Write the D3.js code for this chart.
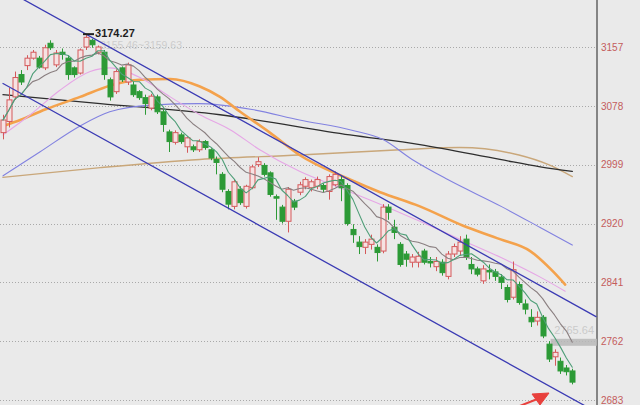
<!DOCTYPE html>
<html>
<head>
<meta charset="utf-8">
<script src="https://cdn.jsdelivr.net/npm/d3@7"></script>
<style>
  html, body { margin: 0; padding: 0; background: #eaeaea; }
  svg { display: block; }
</style>
</head>
<body>
<svg id="chart" width="640" height="405"></svg>
<script>
// Daily candles: open / high / low / close
const opens  = [3042,3057,3090,3120,3132,3142,3142,3129,3162,3133,3150,3142,3129,3122,3157,3166,3150,3150,3113,3097,
                3129,3110,3106,3097,3089,3075,3090,3070,3043,3029,3039,3023,3023,3019,3030,3019,3006,2986,2963,2943,
                2966,2943,2968,2999,2998,2988,2956,2942,2923,2950,2962,2970,2968,2970,2971,2963,2972,2979,2971,2912,
                2895,2888,2892,2888,2883,2942,2915,2892,2879,2868,2868,2883,2869,2862,2868,2849,2879,2883,2899,2865,
                2859,2843,2857,2855,2848,2834,2821,2838,2812,2794,2789,2794,2758,2741,2735,2726,2722];
const highs  = [3066,3102,3124,3126,3146,3153,3145,3160,3166,3153,3155,3146,3131,3155,3174.27,3168,3159,3153,3116,3127,
                3131,3136,3110,3099,3093,3094,3093,3073,3046,3045,3042,3037,3026,3033,3032,3021,3010,2989,2966,2979,
                2970,2972,2999,3009,3001,2990,2959,2945,2969,2953,2976,2982,2979,2983,2974,2986,2990,2984,2974,2919,
                2903,2899,2905,2892,2946,2946,2925,2895,2883,2879,2882,2886,2875,2875,2872,2883,2893,2903,2905,2875,
                2862,2864,2865,2859,2852,2838,2869,2842,2818,2805,2802,2797,2762,2751,2740,2730,2725];
const lows   = [3033,3049,3086,3106,3126,3140,3128,3126,3153,3130,3140,3113,3116,3120,3153,3156,3147,3113,3085,3094,
                3110,3106,3090,3086,3066,3072,3067,3043,3016,3026,3027,3015,3016,3016,3019,3005,2986,2962,2939,2939,
                2945,2940,2966,2996,2983,2956,2925,2920,2908,2938,2958,2966,2963,2966,2962,2952,2970,2950,2917,2894,
                2879,2879,2885,2869,2880,2925,2899,2862,2862,2861,2861,2865,2861,2856,2850,2845,2875,2877,2871,2852,
                2849,2839,2845,2843,2832,2814,2818,2811,2798,2781,2783,2766,2734,2729,2718,2716,2704];
const closes = [3059,3086,3116,3110,3142,3150,3130,3156,3156,3149,3147,3120,3120,3153,3170,3160,3157,3120,3090,3124,
                3113,3133,3093,3089,3081,3091,3070,3053,3030,3042,3030,3035,3019,3030,3022,3008,3002,2966,2946,2976,
                2948,2970,2996,3003,2986,2959,2954,2923,2966,2942,2972,2979,2976,2979,2966,2983,2986,2968,2920,2905,
                2889,2895,2899,2881,2942,2935,2908,2865,2872,2875,2876,2868,2867,2869,2854,2879,2889,2895,2875,2859,
                2852,2859,2855,2849,2841,2818,2858,2814,2805,2788,2794,2769,2738,2747,2722,2721,2707];

// Price-axis ticks
const tickValues = [2683, 2762, 2841, 2920, 2999, 3078, 3157];

// Longer moving averages, sampled as [candle index, price]
const maOrange = [[0,3051],[2.9,3059],[7.1,3073],[13,3090],[18,3105],[23.1,3113],[28.2,3114],[33.2,3104],[36.6,3090],
                  [40,3070],[45,3042],[50,3012],[58.5,2979],[63.6,2962],[70.3,2943],[77.6,2917],[83.8,2899],[88.9,2883],
                  [92.7,2856],[94.8,2838]];
const maPink   = [[0,3039],[4.6,3066],[9.6,3099],[14.7,3124],[18,3129],[23.1,3116],[28.2,3090],[33.2,3066],[38.3,3046],
                  [43.3,3019],[50,2990],[56.8,2968],[63.6,2946],[70.3,2923],[77,2899],[83.8,2875],[90.6,2848],[94.8,2829]];
const maBlue   = [[0,2984],[6.2,3016],[13,3051],[18,3070],[25,3079],[33,3081],[42,3073],[50,3059],[59,3045],[64,3033],
                  [69,3006],[75,2979],[84,2943],[90.5,2915],[96,2891]];
const maBlack  = [[0,3093],[16.4,3081],[36.6,3066],[58.5,3039],[70.3,3026],[83.8,3006],[90.6,2996],[96,2990]];
const maTan    = [[0,2982],[16.4,2995],[33.2,3006],[50,3012],[67,3019],[77,3022],[87,3012],[92,2999],[96,2983]];

// Parallel trend channel, two anchors each
const channelUpper = [[0,3236],[100,2795]];
const channelLower = [[0,3108],[100,2667]];

// Faint reference labels
const rangeNote = "3155.46~3159.63";
const lastNote = "2765.64";

const W = 640, H = 405, plotRight = 597;
const svg = d3.select("#chart");
const n = closes.length;
const idx = d3.range(n);

const x = d3.scaleLinear().domain([0, n - 1]).range([3, 572.3]);
const y = d3.scaleLinear().domain([2683, 3157]).range([400, 47]);

// background
svg.append("rect").attr("width", W).attr("height", H).attr("fill", "#eaeaea");

svg.append("defs").append("clipPath").attr("id", "plot")
  .append("rect").attr("x", 0).attr("y", 0).attr("width", plotRight).attr("height", H);

// dotted grid
svg.append("g").selectAll("line").data(tickValues).join("line")
  .attr("x1", 0).attr("x2", plotRight)
  .attr("y1", d => Math.round(y(d)) + 0.5).attr("y2", d => Math.round(y(d)) + 0.5)
  .attr("stroke", "#a9a9a9").attr("stroke-width", 1).attr("stroke-dasharray", "1,2");

// right price axis
const axis = d3.axisRight(y).tickValues(tickValues).tickSize(0).tickPadding(3).tickFormat(d3.format("d"));
const gAxis = svg.append("g").attr("transform", `translate(${plotRight + 1},0)`).call(axis);
gAxis.select(".domain").remove();
gAxis.selectAll("text").attr("fill", "#c45c5c").style("font-family", "'Liberation Sans', Arial, sans-serif")
  .style("font-size", "10px");
svg.append("line").attr("x1", plotRight).attr("x2", plotRight).attr("y1", 0).attr("y2", H)
  .attr("stroke", "#858585").attr("stroke-width", 2);

const plot = svg.append("g").attr("clip-path", "url(#plot)");

// faint range note near the top
plot.append("text").attr("x", 100).attr("y", 49).text(rangeNote)
  .attr("fill", "#cdcdcd").style("font-family", "'Liberation Sans', Arial, sans-serif").style("font-size", "10.5px");

const curve = d3.line().x(d => x(d[0])).y(d => y(d[1])).curve(d3.curveMonotoneX);
const straight = d3.line().x(d => x(d[0])).y(d => y(d[1]));

function drawLine(data, color, width, gen) {
  plot.append("path").datum(data).attr("d", gen || curve)
    .attr("fill", "none").attr("stroke", color).attr("stroke-width", width)
    .attr("stroke-linejoin", "round").attr("stroke-linecap", "round");
}

drawLine(maTan, "#c9a77a", 1.4);
drawLine(maBlack, "#2e2e2e", 1.3);
drawLine(maBlue, "#8282e0", 1.1);
drawLine(maOrange, "#f4a24c", 2.6);
drawLine(maPink, "#e6a6e6", 1.1);

// short moving averages of the closes
const maWindow = (k) => idx.map(i => {
  const s = closes.slice(Math.max(0, i - k + 1), i + 1);
  return [i, d3.mean(s)];
});
const ma5 = maWindow(5);
const ma10 = maWindow(10);

// last-value band
const lastMa10 = ma10[n - 1][1];
plot.append("rect").attr("x", x(n - 5) + 2).attr("width", plotRight - x(n - 5) - 2)
  .attr("y", y(lastMa10) - 3.5).attr("height", 7).attr("fill", "#b9b9b9").attr("opacity", 0.85);
plot.append("text").attr("x", plotRight - 3).attr("y", y(lastMa10) - 8).attr("text-anchor", "end").text(lastNote)
  .attr("fill", "#cbcbcb").style("font-family", "'Liberation Sans', Arial, sans-serif").style("font-size", "11px");

// candles
const bw = 5;
const cg = plot.append("g");
idx.forEach(i => {
  const up = closes[i] >= opens[i];
  const col = up ? "#d4585a" : "#2c9a36";
  const cx = Math.round(x(i)) + 0.5;
  const top = y(Math.max(opens[i], closes[i]));
  const bot = y(Math.min(opens[i], closes[i]));
  cg.append("line").attr("x1", cx).attr("x2", cx).attr("y1", y(highs[i])).attr("y2", top)
    .attr("stroke", col).attr("stroke-width", 1);
  cg.append("line").attr("x1", cx).attr("x2", cx).attr("y1", bot).attr("y2", y(lows[i]))
    .attr("stroke", col).attr("stroke-width", 1);
  cg.append("rect").attr("x", cx - bw / 2).attr("y", top).attr("width", bw).attr("height", Math.max(1, bot - top))
    .attr("fill", up ? "#f6e2e2" : "#2c9a36").attr("stroke", col).attr("stroke-width", 1);
});

drawLine(ma10, "#8a7f80", 1.1, straight);
drawLine(ma5, "#4f9e78", 1.1, straight);

// trend channel
drawLine(channelUpper, "#3b3bb4", 1.3, straight);
drawLine(channelLower, "#3b3bb4", 1.3, straight);

// high marker
const hi = d3.maxIndex(highs);
const hx = x(hi), hy = y(highs[hi]);
plot.append("line").attr("x1", hx - 3).attr("x2", hx + 8).attr("y1", hy).attr("y2", hy)
  .attr("stroke", "#222").attr("stroke-width", 2);
plot.append("text").attr("x", hx + 9).attr("y", hy + 2.5).text(d3.format(".2f")(highs[hi]))
  .attr("fill", "#1e1e1e").style("font-family", "'Liberation Sans', Arial, sans-serif")
  .style("font-size", "11px").style("font-weight", "bold");

// red arrow at the bottom
const arrow = svg.append("g").attr("fill", "#e8403c").attr("stroke", "#e8403c");
arrow.append("line").attr("x1", 512).attr("y1", 409).attr("x2", 540).attr("y2", 398).attr("stroke-width", 2);
arrow.append("path").attr("d", "M549,393 L532,394 L540,405 Z").attr("stroke-width", 1);
</script>
</body>
</html>
